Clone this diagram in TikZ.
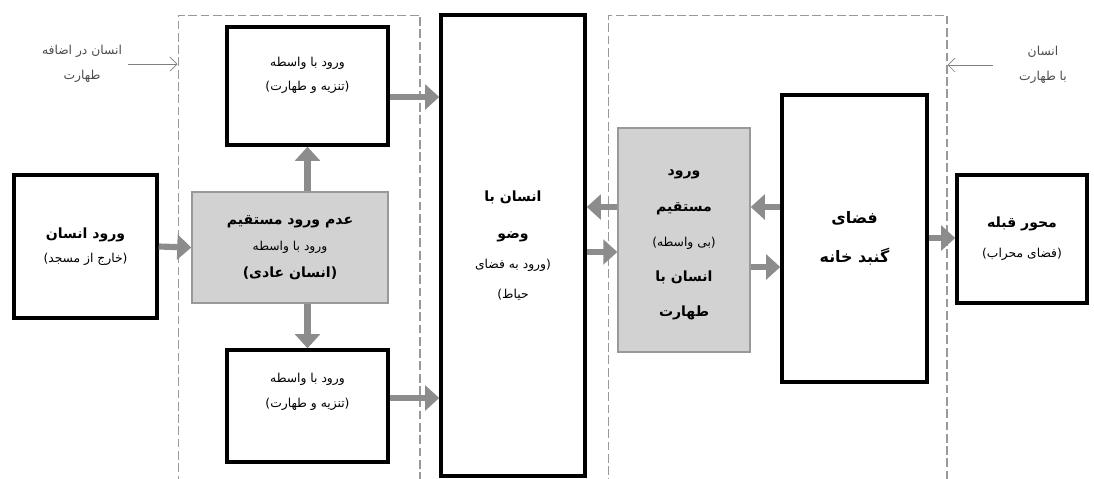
\documentclass[tikz,border=0pt]{standalone}
\usepackage{fontspec}
\usetikzlibrary{arrows.meta}
\newfontfamily\fa[Script=Arabic]{DejaVu Sans}
\TeXXeTstate=1
\newcommand{\rl}[1]{\beginR #1\endR}
\newcommand{\sm}{\fontsize{7}{12}\selectfont}

\begin{document}
\begin{tikzpicture}[x=0.02cm, y=-0.02cm,
  box/.style={draw, line width=2pt, align=center, inner sep=2pt, font=\fa\fontsize{8}{15}\selectfont},
  greybox/.style={draw=gray!80, fill=gray!35, line width=0.8pt, align=center, inner sep=2pt, font=\fa\fontsize{8}{15}\selectfont},
  zone/.style={draw=gray!80, line width=0.6pt, dash pattern=on 5pt off 2pt},
  flow/.style={-{Triangle[width=14pt,length=8pt]}, line width=3.5pt, color=gray!90},
  hint/.style={-{Straight Barb[length=4pt,width=8pt]}, thin, color=gray},
  note/.style={align=center, text=gray!60!black, font=\fa\fontsize{7}{14}\selectfont}]

\useasboundingbox (0,0) rectangle (1094,478);

\node[zone, minimum width=4.84cm, minimum height=9.4cm] (outer) at (299,250) {};
\node[zone, minimum width=6.78cm, minimum height=9.4cm] (inner) at (777.5,250) {};

\node[box, minimum width=2.86cm, minimum height=2.86cm, font=\fa\fontsize{8}{14}\selectfont] (entry) at (85.5,246.5)
  {\textbf{\rl{ورود انسان}}\\{\sm\rl{(خارج از مسجد)}}};
\node[box, minimum width=3.22cm, minimum height=2.36cm, font=\fa\fontsize{7}{14}\selectfont] (via1) at (307.5,86)
  {\rl{ورود با واسطه}\\\rl{(تنزیه و طهارت)}\\\mbox{}};
\node[greybox, minimum width=3.92cm, minimum height=2.22cm] (indirect) at (290,247.5)
  {\textbf{\rl{عدم ورود مستقیم}}\\{\sm\rl{ورود با واسطه}}\\\textbf{\rl{(انسان عادی)}}};
\node[box, minimum width=3.22cm, minimum height=2.24cm, font=\fa\fontsize{7}{14}\selectfont] (via2) at (307.5,406)
  {\rl{ورود با واسطه}\\\rl{(تنزیه و طهارت)}\\[4pt]\mbox{}};
\node[box, minimum width=2.88cm, minimum height=9.22cm, font=\fa\fontsize{8}{17}\selectfont] (wudu) at (513,245.5)
  {\textbf{\rl{انسان با}}\\[4pt]\textbf{\rl{وضو}}\\{\sm\rl{(ورود به فضای}}\\{\sm\rl{حیاط)}}};
\node[greybox, minimum width=2.64cm, minimum height=4.48cm, font=\fa\fontsize{8}{20}\selectfont] (direct) at (684,240)
  {\mbox{}\\[-11pt]\textbf{\rl{ورود}}\\\textbf{\rl{مستقیم}}\\{\sm\rl{(بی واسطه)}}\\\textbf{\rl{انسان با}}\\\textbf{\rl{طهارت}}};
\node[box, minimum width=2.90cm, minimum height=5.74cm, font=\fa\fontsize{9}{22}\selectfont] (dome) at (854.5,238.5)
  {\textbf{\rl{فضای}}\\\textbf{\rl{گنبد خانه}}};
\node[box, minimum width=2.60cm, minimum height=2.56cm, font=\fa\fontsize{8}{17}\selectfont] (qibla) at (1022,239)
  {\textbf{\rl{محور قبله}}\\{\sm\rl{(فضای محراب)}}};

\node[note] (pure1) at (82,64) {\rl{انسان در اضافه}\\\rl{طهارت}};
\node[note] (pure2) at (1043,65) {\rl{انسان}\\\rl{با طهارت}};

\draw[hint] (pure1.east) -- (pure1.east -| outer.west);
\draw[hint] ([xshift=-0.4cm]pure2.west) -- (pure2.west -| inner.east);

\draw[flow] (entry.east) -- (indirect.west);
\draw[flow] (via1.south |- indirect.north) -- (via1.south);
\draw[flow] (via2.north |- indirect.south) -- (via2.north);
\draw[flow] (via1.east |- 0,97) -- (wudu.west |- 0,97);
\draw[flow] (via2.east |- 0,398) -- (wudu.west |- 0,398);
\draw[flow] (direct.west |- 0,207) -- (wudu.east |- 0,207);
\draw[flow] (wudu.east |- 0,252) -- (direct.west |- 0,252);
\draw[flow] (dome.west |- 0,207) -- (direct.east |- 0,207);
\draw[flow] (direct.east |- 0,267) -- (dome.west |- 0,267);
\draw[flow] (dome.east |- 0,238) -- (qibla.west |- 0,238);

\end{tikzpicture}
\end{document}
